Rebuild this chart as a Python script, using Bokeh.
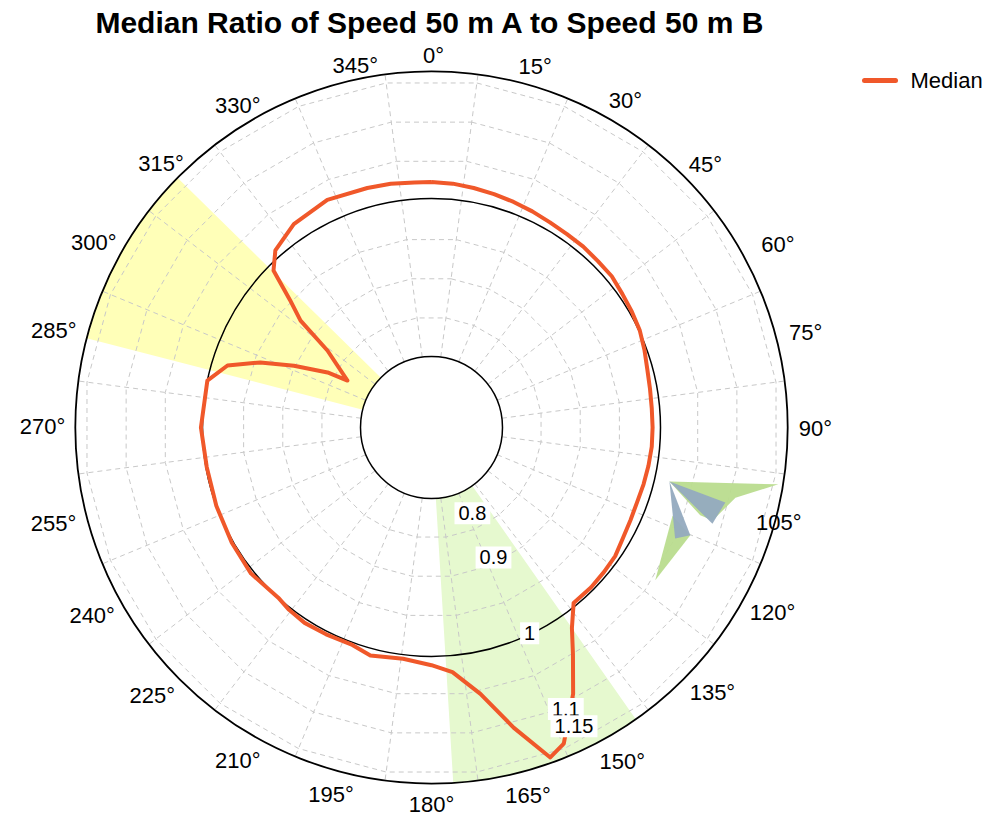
import numpy as np
from bokeh.plotting import figure
from bokeh.models import Range1d
from bokeh.core.properties import value
from bokeh.embed import file_html
from bokeh.resources import INLINE

# ---------------- data ----------------
title_text = "Median Ratio of Speed 50 m A to Speed 50 m B"

median_dir = [0, 5, 10, 15, 20, 25, 30, 35, 40, 45, 50, 55, 60, 65, 70, 75, 80, 85, 90,
              95, 100, 105, 110, 115, 120, 125, 130, 135, 141, 145, 148, 152, 157.3,
              160.2, 164.7, 169.6, 175.1, 180, 187, 195, 200, 207, 213, 218, 222, 231,
              240, 250, 260, 270, 281.8, 286.9, 290.8, 294.2, 297.9, 299.2, 306.5,
              309.2, 312, 314.8, 318.6, 325.9, 335.4, 345, 350.5, 356, 360]
median_ratio = [1.021, 1.020, 1.018, 1.016, 1.014, 1.012, 1.010, 1.009, 1.009, 1.008,
                1.008, 1.005, 1.003, 1.001, 0.997, 0.993, 0.991, 0.990, 0.990,
                0.990, 0.989, 0.988, 0.987, 0.988, 0.990, 0.994, 0.995, 0.996, 0.996,
                1.020, 1.048, 1.092, 1.144, 1.154, 1.104, 1.053, 1.021, 1.011,
                1.005, 1.009, 1.003, 1.004, 1.005, 1.003, 1.000, 1.004, 1.002, 1.000,
                0.999, 1.002, 1.000, 0.980, 0.942, 0.901, 0.859, 0.832, 0.874,
                0.924, 0.951, 0.992, 1.009, 1.021, 1.027, 1.024, 1.023, 1.021, 1.021]

# shaded direction sectors (degrees, clockwise from north)
sector_start = [284.5, 145.0]
sector_end = [314.5, 176.5]
sector_color = ["#FFFFB8", "#E6F9CF"]

# small percentile fans near 100-125 deg (direction, ratio)
fan_green_a_dir = [102.8, 99.3, 103.0, 108.3, 108.1]
fan_green_a_val = [1.019, 1.155, 1.105, 1.085, 1.068]
fan_blue_a_dir = [102.8, 104.3, 108.9]
fan_blue_a_val = [1.019, 1.094, 1.086]
fan_blue_b_dir = [102.8, 112.6, 114.5]
fan_blue_b_val = [1.019, 1.065, 1.049]
fan_green_b_dir = [110.1, 112.6, 124.3]
fan_green_b_val = [1.035, 1.065, 1.053]

angle_ticks = list(range(0, 360, 15))
angle_labels = [f"{a}\u00b0" for a in angle_ticks]
ratio_ticks = [0.8, 0.9, 1.0, 1.1, 1.15]
ratio_labels = ["0.8", "0.9", "1", "1.1", "1.15"]
grid_rings = [0.85, 0.9, 0.95, 1.05, 1.1, 1.15]
r_min, r_one, r_max = 0.8, 1.0, 1.161

# ---------------- layout / style ----------------
W, H = 984, 820
PX = 790.0                      # pixels per ratio unit
CXF, CYF = 431, 427             # polar centre in figure pixels (from top-left)
V0 = r_min - 71.0 / PX          # ratio value at the centre
FONT = value("Liberation Sans")
ORANGE = "#F0582A"

# where each angle label sits (bearing, distance in px from the centre)
angle_label_b = [0.3, 16.0, 30.7, 46.1, 62.1, 75.7, 90.1, 105.3, 118.5, 133.3, 150.3, 165.3,
                 180.0, 195.3, 210.2, 226.2, 241.0, 255.7, 270.1, 284.4, 298.7, 314.3, 329.0, 348.1]
angle_label_r_px = [372, 376, 380, 380, 392, 386, 384, 360, 388, 386, 385, 380,
                    377, 381, 385, 387, 388, 390, 389, 390, 385, 378, 376, 370]
ratio_label_bearing = 154.5
ratio_label_r_px = [95, 144, 228, 312, 331]


def rad(v):
    return np.asarray(v, dtype=float) - V0


def polar(bearing, v):
    th = np.radians(np.asarray(bearing, dtype=float))
    r = rad(v)
    return r * np.sin(th), r * np.cos(th)


def polar_px(bearing, rpx):
    th = np.radians(np.asarray(bearing, dtype=float))
    r = np.asarray(rpx, dtype=float) / PX
    return r * np.sin(th), r * np.cos(th)


def page(px, py):
    return (px - CXF) / PX, (CYF - py) / PX


p = figure(width=W, height=H, output_backend="svg", toolbar_location=None,
           x_range=Range1d(-CXF / PX, (W - CXF) / PX),
           y_range=Range1d(-(H - CYF) / PX, CYF / PX),
           min_border=0, outline_line_color=None)
p.axis.visible = False
p.grid.visible = False
p.background_fill_color = "white"

# sectors
for b1, b2, c in zip(sector_start, sector_end, sector_color):
    p.annular_wedge(x=0, y=0, inner_radius=float(rad(r_min)), outer_radius=float(rad(r_max)),
                    start_angle=np.radians(90 - b2), end_angle=np.radians(90 - b1),
                    direction="anticlock", fill_color=c, line_color=None)

# dashed grid: rings as polygons with vertices on the sector boundaries
bnd = np.arange(7.5, 7.5 + 360 + 15, 15)
ring_xs, ring_ys = [], []
for g in grid_rings:
    x, y = polar(bnd, np.full(len(bnd), g))
    ring_xs.append(list(x)); ring_ys.append(list(y))
p.multi_line(ring_xs, ring_ys, line_color="#C8C8C8", line_width=1, line_dash="5 4")
rad_xs, rad_ys = [], []
for b in bnd[:-1]:
    x, y = polar([b, b], [r_min, r_max])
    rad_xs.append(list(x)); rad_ys.append(list(y))
p.multi_line(rad_xs, rad_ys, line_color="#C8C8C8", line_width=1, line_dash="5 4")

# percentile fans
for d, v, c in [(fan_green_a_dir, fan_green_a_val, "#B9DC8E"),
                (fan_green_b_dir, fan_green_b_val, "#B9DC8E"),
                (fan_blue_a_dir, fan_blue_a_val, "#93AABF"),
                (fan_blue_b_dir, fan_blue_b_val, "#93AABF")]:
    x, y = polar(d, v)
    p.patch(list(x), list(y), fill_color=c, line_color=None, fill_alpha=0.95)

# circles
p.circle(x=[0], y=[0], radius=float(rad(r_min)), fill_color="white", line_color="black", line_width=1.5)
p.circle(x=[0], y=[0], radius=float(rad(r_one)), fill_color=None, line_color="black", line_width=1.5)
p.circle(x=[0], y=[0], radius=float(rad(r_max)), fill_color=None, line_color="black", line_width=1.8)

# median line
mx, my = polar(median_dir, median_ratio)
p.line(list(mx), list(my), line_color=ORANGE, line_width=4, line_join="round")

# radial labels (one glyph each so that later boxes cover earlier labels)
lx, ly = polar_px([ratio_label_bearing] * len(ratio_ticks), ratio_label_r_px)
for xi, yi, t in zip(lx, ly, ratio_labels):
    p.text(x=[xi], y=[yi], text=[t], text_font=FONT, text_font_size="20px",
           text_align="center", text_baseline="middle", text_color="black",
           background_fill_color="white", padding=4)

# angle labels
ax, ay = polar_px(angle_label_b, angle_label_r_px)
p.text(x=list(ax), y=list(ay), text=angle_labels, text_font=FONT, text_font_size="22px",
       text_align="center", text_baseline="middle", text_color="black")

# title
tx, ty = page(430, 22)
p.text(x=[tx], y=[ty], text=[title_text], text_font=FONT, text_font_size="30px",
       text_font_style="bold", text_align="center", text_baseline="middle", text_color="black")

# legend
l1 = page(864, 80); l2 = page(895, 80)
p.line([l1[0], l2[0]], [l1[1], l2[1]], line_color=ORANGE, line_width=5, line_cap="round")
lt = page(910, 80)
p.text(x=[lt[0]], y=[lt[1]], text=["Median"], text_font=FONT, text_font_size="22px",
       text_align="left", text_baseline="middle", text_color="black")

open("out.html", "w").write(file_html(p, INLINE))
